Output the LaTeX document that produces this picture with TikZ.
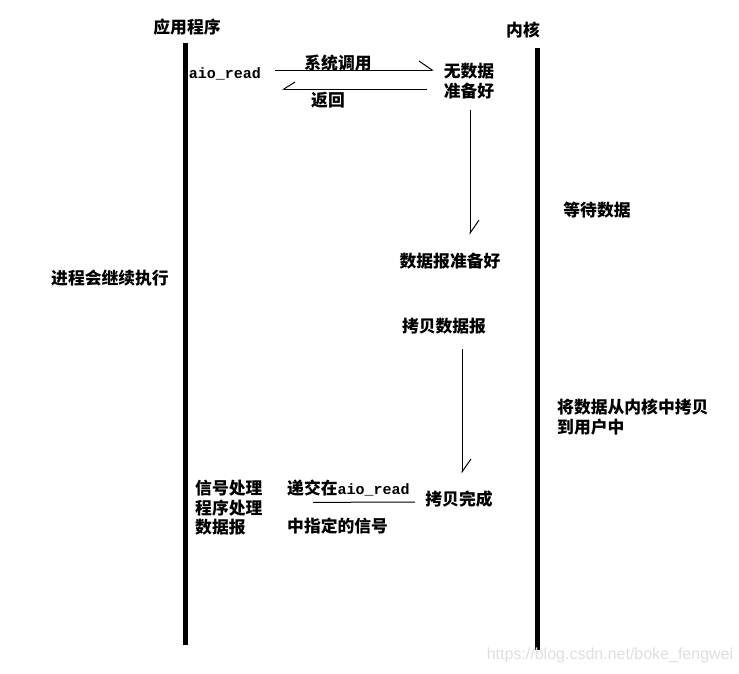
\documentclass[tikz,border=0pt]{standalone}
\usepackage{fontspec}
\setmainfont{Liberation Sans}
\newfontfamily\cjk{Noto Sans CJK SC}
\newfontfamily\mono{Liberation Mono}
\usetikzlibrary{arrows.meta}

\tikzset{
    lifeline/.style={line width=5pt},
    msg/.style={line width=1pt,-{Straight Barb[left,length=13pt,width=18pt]}},
    msgback/.style={line width=1pt,-{Straight Barb[right,length=11pt,width=14pt]}},
    lbl/.style={font=\cjk\bfseries\fontsize{16.8}{19.5}\selectfont,inner sep=0pt,align=left},
    code/.style={font=\mono\bfseries\fontsize{15}{18}\selectfont,inner sep=0pt}
}

\begin{document}
\begin{tikzpicture}[x=1pt,y=-1pt]
        \useasboundingbox[fill=white] (0,0) rectangle (739,673);
        % lifelines
        \coordinate (appTop) at (185,43);
        \coordinate (appBot) at (185,645);
        \coordinate (kernTop) at (537,48);
        \coordinate (kernBot) at (537,650);
        \draw[lifeline] (appTop) -- (appBot);
        \draw[lifeline] (kernTop) -- (kernBot);
        % labels
        \node[lbl] (app) at (187,27) {应用程序};
        \node[lbl] (kernel) at (523,30) {内核};
        \node[code] (aio) at (225,74) {aio\_read};
        \node[lbl] (syscall) at (338,63) {系统调用};
        \node[lbl] (nodata) at (469,81) {无数据\\准备好};
        \node[lbl] (ret) at (328,100) {返回};
        \node[lbl] (wait) at (597,210) {等待数据};
        \node[lbl] (ready) at (450,261) {数据报准备好};
        \node[lbl] (goon) at (110,278) {进程会继续执行};
        \node[lbl] (copy) at (444,326) {拷贝数据报};
        \node[lbl,anchor=west] (copyk) at (557,417) {将数据从内核中拷贝\\到用户中};
        \node[lbl,anchor=west] (handler) at (195,508) {信号处理\\程序处理\\数据报};
        \node[lbl,anchor=west] (deliver) at (287,488) {递交在{\mono\bfseries\fontsize{15}{18}\selectfont aio\_read}};
        \node[lbl] (done) at (459,499) {拷贝完成};
        \node[lbl,anchor=west] (sigtext) at (287,526) {中指定的信号};
        % messages
        \draw[msg] ([shift={(14,-4)}]aio.east) -- ([shift={(-10,-11)}]nodata.west);
        \draw[msgback] ([shift={(-17,8)}]nodata.west) -- ([shift={(21,15)}]aio.east);
        \draw[msg] ([shift={(1,11)}]nodata.south) -- ([shift={(20,-18)}]ready.north);
        \draw[msg] ([shift={(18,15)}]copy.south) -- ([shift={(3,-17)}]done.north);
        \draw[line width=1pt] ([shift={(-10,3)}]done.west) -- ([shift={(26,6)}]deliver.south west);
        \node[font=\fontsize{16}{18}\selectfont,text=gray!25,inner sep=0pt] (mark) at (610,655) {https://blog.csdn.net/boke\_fengwei};
    \end{tikzpicture}
\end{document}
